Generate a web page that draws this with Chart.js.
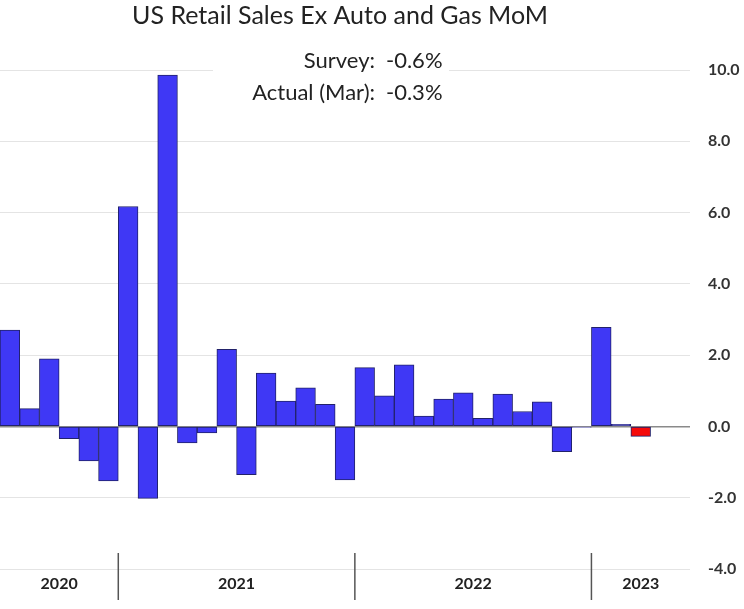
<!DOCTYPE html>
<html>
<head>
<meta charset="utf-8">
<script src="https://cdn.jsdelivr.net/npm/chart.js@4/dist/chart.umd.min.js"></script>
<style>
  html, body { margin: 0; padding: 0; background: #fff; }
  #wrap { width: 744px; height: 609px; position: relative; }
</style>
</head>
<body>
<div id="wrap"><canvas id="salesChart"></canvas></div>
<script>
// months Jul 2020 .. May 2023 (last two slots empty)
const months = ['Jul 20','Aug 20','Sep 20','Oct 20','Nov 20','Dec 20',
  'Jan 21','Feb 21','Mar 21','Apr 21','May 21','Jun 21','Jul 21','Aug 21','Sep 21','Oct 21','Nov 21','Dec 21',
  'Jan 22','Feb 22','Mar 22','Apr 22','May 22','Jun 22','Jul 22','Aug 22','Sep 22','Oct 22','Nov 22','Dec 22',
  'Jan 23','Feb 23','Mar 23','Apr 23','May 23'];
const momChange = [2.7, 0.5, 1.9, -0.34, -0.97, -1.53,
  6.17, -2.02, 9.86, -0.46, -0.18, 2.16, -1.35, 1.5, 0.71, 1.08, 0.62, -1.5,
  1.65, 0.86, 1.73, 0.29, 0.77, 0.94, 0.23, 0.91, 0.42, 0.69, -0.71, -0.02,
  2.78, 0.06, -0.28, null, null];
const years = ['2020', '2021', '2022', '2023'];
const yearFirst = [0, 6, 18, 30];
const yearLast = [5, 17, 29, 34];
const surveyLines = [['Survey:', '-0.6%'], ['Actual (Mar):', '-0.3%']];
const chartTitle = 'US Retail Sales Ex Auto and Gas MoM';
const latestIndex = 32;

const textPlugin = {
    id: 'textPlugin',
    afterDraw(chart) {
        const ctx = chart.ctx;
        const x = chart.scales.x;
        const area = chart.chartArea;
        ctx.save();
        // title
        ctx.fillStyle = '#222';
        ctx.font = '25px Lato';
        ctx.textAlign = 'center';
        ctx.textBaseline = 'middle';
        ctx.fillText(chartTitle, 340, 16);
        // survey box
        ctx.fillStyle = '#fff';
        ctx.fillRect(213, 44, 236, 62);
        ctx.font = '22px Lato';
        ctx.fillStyle = '#222';
        surveyLines.forEach((ln, i) => {
            ctx.textAlign = 'right';
            ctx.fillText(ln[0], 375, 61 + i * 32);
            ctx.textAlign = 'left';
            ctx.fillText(ln[1], 386, 61 + i * 32);
        });
        // year labels and separators
        ctx.font = 'bold 16px Lato';
        ctx.textAlign = 'center';
        ctx.strokeStyle = '#555';
        ctx.lineWidth = 1.5;
        years.forEach((yr, i) => {
            const mid = (x.getPixelForValue(yearFirst[i]) + x.getPixelForValue(yearLast[i])) / 2;
            ctx.fillText(yr, mid, area.bottom + 15);
            if (i > 0) {
                const sep = (x.getPixelForValue(yearFirst[i] - 1) + x.getPixelForValue(yearFirst[i])) / 2;
                ctx.beginPath();
                ctx.moveTo(sep, area.bottom - 16);
                ctx.lineTo(sep, area.bottom + 31);
                ctx.stroke();
            }
        });
        ctx.restore();
    }
};

new Chart(document.getElementById('salesChart').getContext('2d'), {
    type: 'bar',
    data: {
        labels: months,
        datasets: [{
            label: 'Retail Sales Ex Auto and Gas MoM',
            data: momChange,
            backgroundColor: (c) => c.dataIndex === latestIndex ? '#f50a0a' : '#3f38f5',
            borderColor: '#22226a',
            borderWidth: 1,
            borderSkipped: false,
            barPercentage: 1,
            categoryPercentage: 1,
        }],
    },
    options: {
        responsive: true,
        maintainAspectRatio: false,
        animation: false,
        layout: { padding: { top: 70, bottom: 40, left: 0, right: 0 } },
        plugins: {
            legend: { display: false },
            tooltip: { enabled: false },
        },
        scales: {
            x: { display: false },
            y: {
                position: 'right',
                min: -4,
                max: 10,
                border: { display: false },
                grid: {
                    drawTicks: false,
                    color: (c) => c.tick && c.tick.value === 0 ? '#8a8a8a' : '#e4e4e4',
                    lineWidth: (c) => c.tick && c.tick.value === 0 ? 1.5 : 1,
                },
                ticks: {
                    stepSize: 2,
                    padding: 18,
                    color: '#333',
                    font: { family: 'Lato', size: 16, weight: 'bold' },
                    callback: (v) => v.toFixed(1),
                },
                afterFit(scale) { scale.width = 54; },
            }
        }
    },
    plugins: [textPlugin]
});
</script>
</body>
</html>
